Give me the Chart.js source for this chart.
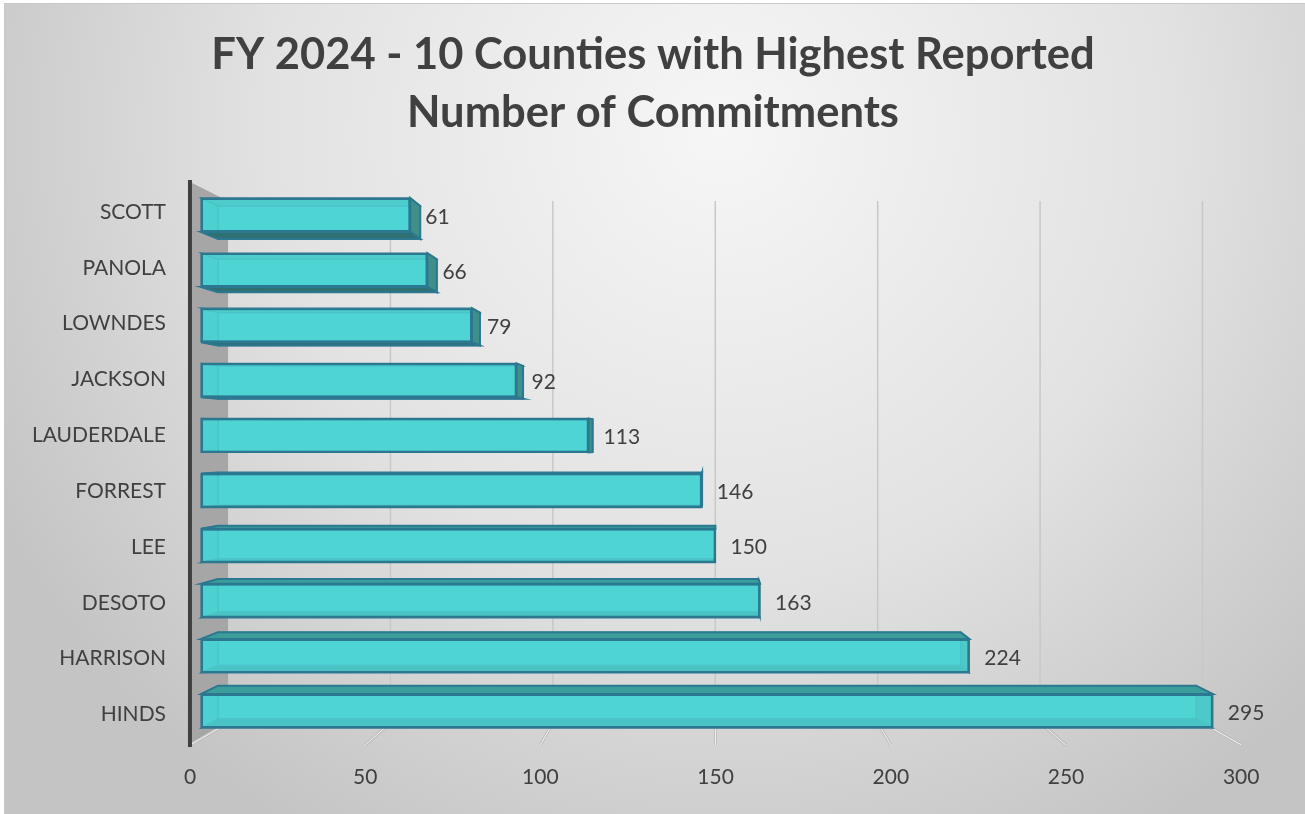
<!DOCTYPE html>
<html>
<head>
<meta charset="utf-8">
<script src="https://cdn.jsdelivr.net/npm/chart.js@4.4.1/dist/chart.umd.min.js"></script>
<style>
  body{ margin:0; background:#fff; }
  canvas{ display:block; }
</style>
</head>
<body>
<canvas id="c" width="1305" height="814"></canvas>
<script>

const categories  = ['SCOTT','PANOLA','LOWNDES','JACKSON','LAUDERDALE','FORREST','LEE','DESOTO','HARRISON','HINDS']
const commitments = [61, 66, 79, 92, 113, 146, 150, 163, 224, 295]
const xTicks      = [0, 50, 100, 150, 200, 250, 300]
const titleLines  = ['FY 2024 - 10 Counties with Highest Reported', 'Number of Commitments']


const FONT = 'Lato'
const TEXT = '#404040'

// depth factors toward the vanishing point
const K_BAR   = 0.0333   // back face of the bars
const K_WALL  = 0.053    // back wall
const K_FLOOR = -0.0216  // front edge of floor (x labels)
const K_LABEL = -0.013   // category labels


function vanish(area){
      return { x: area.left + 0.496*area.width, y: area.top + 0.462*area.height }
}

function proj(vp, px, py, k){
      return [ px + (vp.x - px)*k, py + (vp.y - py)*k ]
}

function poly(ctx, pts, fill, stroke, lw){
      ctx.beginPath()
      pts.forEach((p,i)=>{ i ? ctx.lineTo(p[0],p[1]) : ctx.moveTo(p[0],p[1]) })
      ctx.closePath()
      if(fill){ ctx.fillStyle = fill; ctx.fill() }
      if(stroke){ ctx.strokeStyle = stroke; ctx.lineWidth = lw || 1.5; ctx.stroke() }
}


const background = {
      id: 'background',
      beforeDraw(chart){
            const ctx = chart.ctx
            ctx.save()
            ctx.fillStyle = '#fff'
            ctx.fillRect(0,0,chart.width,chart.height)
            const g = ctx.createRadialGradient(720,130,0, 720,130,820)
            g.addColorStop(0, '#f6f6f6')
            g.addColorStop(0.55, '#e2e2e2')
            g.addColorStop(1, '#c4c4c4')
            ctx.fillStyle = g
            ctx.fillRect(4,3,chart.width-4,chart.height-3)
            ctx.strokeStyle = '#c8c8c8'
            ctx.lineWidth = 1
            ctx.strokeRect(4.5,3.5,chart.width,chart.height)

            //title, centred on the whole canvas
            ctx.fillStyle = TEXT
            ctx.font = 'bold 43.5px ' + FONT
            ctx.textAlign = 'center'
            ctx.textBaseline = 'alphabetic'
            ctx.fillText(titleLines[0], 653, 69)
            ctx.fillText(titleLines[1], 653, 127)
            ctx.restore()
      }
}


const frame3d = {
      id: 'frame3d',
      beforeDatasetsDraw(chart){
            const ctx  = chart.ctx
            const area = chart.chartArea
            const vp   = vanish(area)
            const xs   = chart.scales.x
            ctx.save()

            //left wall
            const ftop = proj(vp, area.left, area.top,    K_FLOOR)
            const fbot = proj(vp, area.left, area.bottom, K_FLOOR)
            const btop = proj(vp, area.left, area.top,    K_WALL)
            const bbot = proj(vp, area.left, area.bottom, K_WALL)
            poly(ctx, [ftop, btop, bbot, fbot], '#a6a6a6')

            //back wall grid + floor lines
            xTicks.forEach((v)=>{
                  const px = xs.getPixelForValue(v)
                  const t  = proj(vp, px, area.top,    K_WALL)
                  const b  = proj(vp, px, area.bottom, K_WALL)
                  const f  = proj(vp, px, area.bottom, K_FLOOR)
                  if(v > 0){
                        ctx.strokeStyle = '#c8c8c8'
                        ctx.lineWidth = 1.5
                        ctx.beginPath(); ctx.moveTo(t[0],t[1]); ctx.lineTo(b[0],b[1]); ctx.stroke()
                  }
                  ctx.strokeStyle = '#bdbdbd'; ctx.lineWidth = 3
                  ctx.beginPath(); ctx.moveTo(b[0],b[1]); ctx.lineTo(f[0],f[1]); ctx.stroke()
                  ctx.strokeStyle = '#f4f4f4'; ctx.lineWidth = 1
                  ctx.beginPath(); ctx.moveTo(b[0],b[1]); ctx.lineTo(f[0],f[1]); ctx.stroke()
            })

            //axis line
            ctx.strokeStyle = '#404040'
            ctx.lineWidth = 4
            ctx.beginPath(); ctx.moveTo(ftop[0], ftop[1]-2); ctx.lineTo(fbot[0], fbot[1]+2); ctx.stroke()

            //bar sides, drawn before chart.js paints the front face
            chart.getDatasetMeta(0).data.forEach((bar)=>{
                  const p = bar.getProps(['x','y','base','height'], true)
                  const L = Math.min(p.base, p.x), R = Math.max(p.base, p.x)
                  const T = p.y - p.height/2,      B = p.y + p.height/2
                  const tl = proj(vp,L,T,K_BAR), tr = proj(vp,R,T,K_BAR)
                  const br = proj(vp,R,B,K_BAR), bl = proj(vp,L,B,K_BAR)
                  const edge = '#2b7890'

                  const faces = [
                        { pts: [tl,tr,br,bl],               fill: '#48cccc', vis: false },
                        { pts: [[L,T],tl,bl,[L,B]],         fill: '#3fb8b8', vis: L > vp.x },
                        { pts: [[R,T],tr,br,[R,B]],         fill: '#3f8f8a', vis: R < vp.x },
                        { pts: [[L,T],[R,T],tr,tl],         fill: '#3c9e9b', vis: T > vp.y },
                        { pts: [[L,B],[R,B],br,bl],         fill: '#2f7073', vis: B < vp.y },
                  ]
                  faces.filter(f=>!f.vis).forEach(f=> poly(ctx, f.pts, f.fill, edge, 1.2))
                  faces.filter(f=> f.vis).forEach(f=> poly(ctx, f.pts, f.fill, edge, 2))
            })

            ctx.restore()
      },

      afterDatasetsDraw(chart){
            const ctx  = chart.ctx
            const area = chart.chartArea
            const vp   = vanish(area)
            const xs   = chart.scales.x
            const ys   = chart.scales.y
            ctx.save()
            ctx.fillStyle = TEXT
            ctx.font = '21px ' + FONT
            ctx.textBaseline = 'middle'

            //data labels
            ctx.textAlign = 'left'
            chart.getDatasetMeta(0).data.forEach((bar,i)=>{
                  ctx.fillText(String(commitments[i]), bar.x + 15, bar.y + 2)
            })

            //category labels
            ctx.textAlign = 'right'
            categories.forEach((c,i)=>{
                  const y = proj(vp, area.left, ys.getPixelForValue(i), K_LABEL)[1]
                  ctx.fillText(c, 166, y)
            })

            //value axis labels on the floor edge
            ctx.textAlign = 'center'
            xTicks.forEach((v)=>{
                  const f = proj(vp, xs.getPixelForValue(v), area.bottom, K_FLOOR)
                  ctx.fillText(String(v), f[0], 777)
            })
            ctx.restore()
      }
}


const setup = {
      type: 'bar',
      data: {
            labels: categories,
            datasets: [{
                  data: commitments,
                  backgroundColor: 'rgba(80,214,214,0.82)',
                  borderColor: '#2b7890',
                  borderWidth: 2,
                  borderSkipped: false,
                  barPercentage: 0.617,
                  categoryPercentage: 1,
            }]
      },
      options: {
            responsive: false,
            animation: false,
            indexAxis: 'y',
            layout: { padding: { left: 201, right: 75, top: 187.4, bottom: 75.4 } },
            scales: {
                  x: { display: false, min: 0, max: 300, ticks: { stepSize: 50 } },
                  y: { display: false },
            },
            plugins: {
                  legend:  { display: false },
                  tooltip: { enabled: false },
                  title:   { display: false },
            }
      },
      plugins: [background, frame3d]
}

new Chart(document.getElementById('c'), setup)

</script>
</body>
</html>
